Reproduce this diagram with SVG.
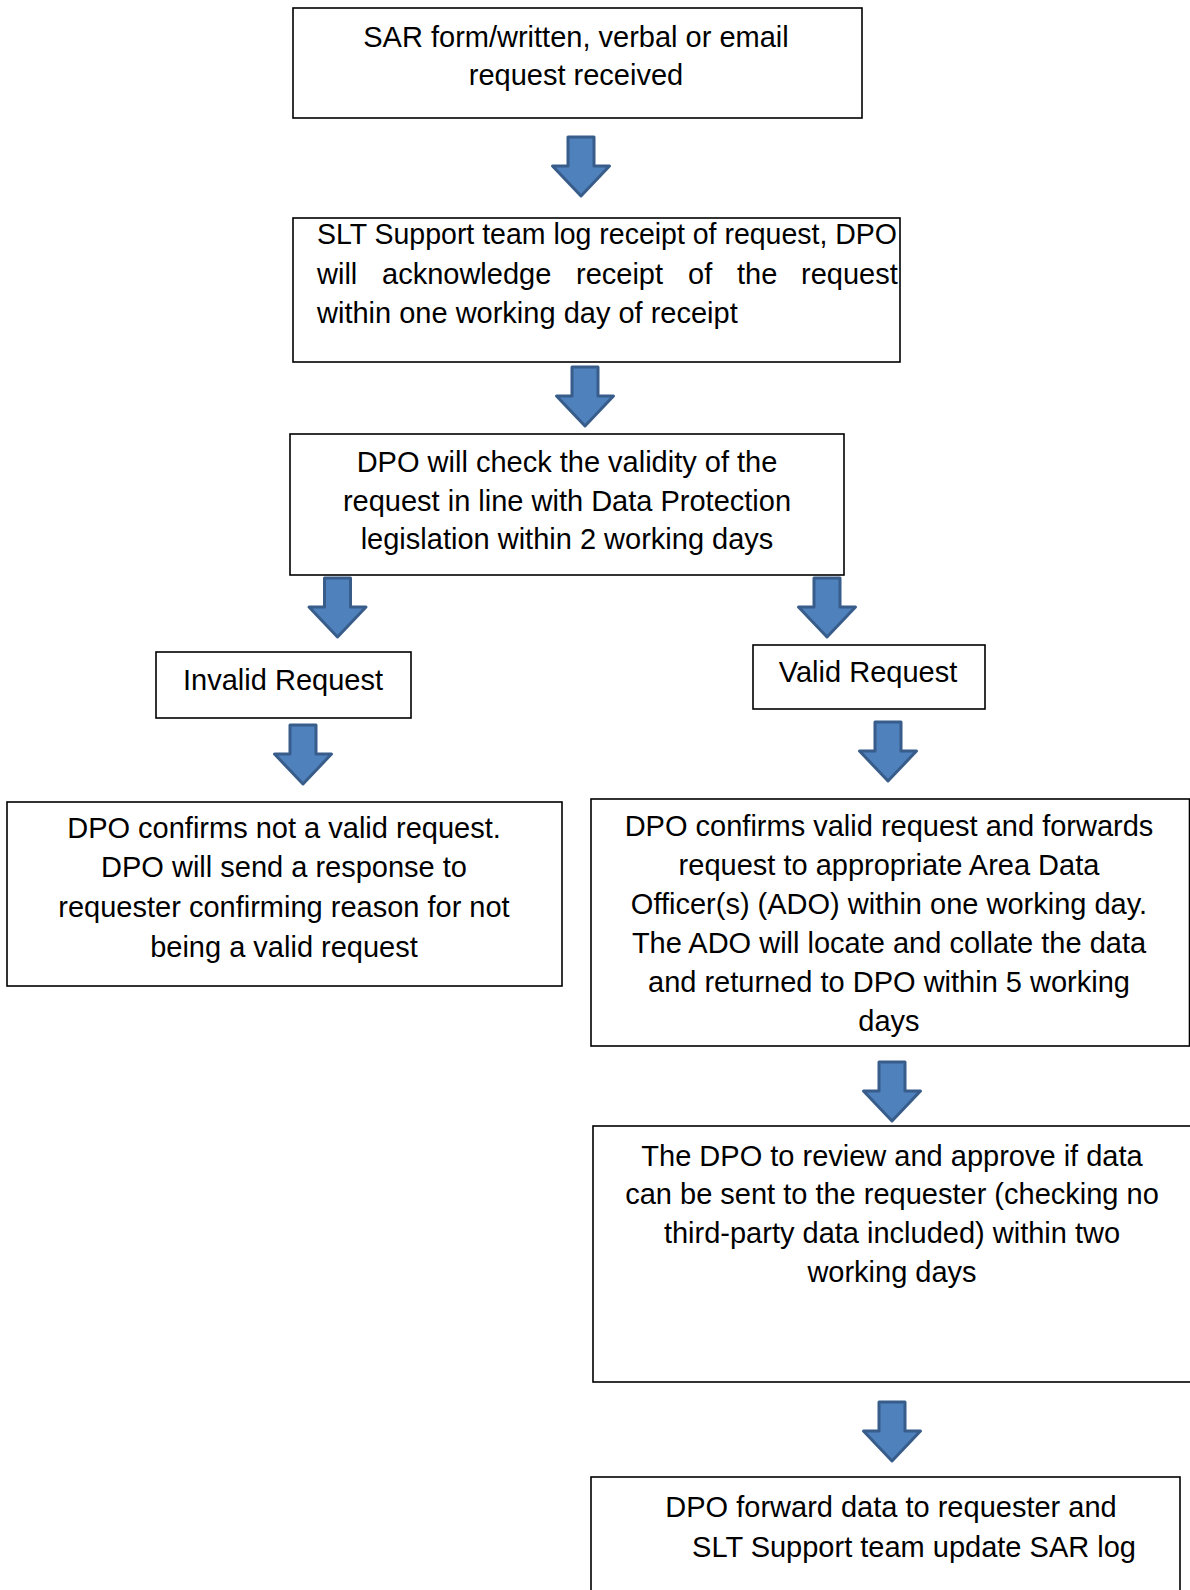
<svg xmlns="http://www.w3.org/2000/svg" width="1190" height="1590" viewBox="0 0 1190 1590">
<defs>
<style>
.box{fill:#fff;stroke:#000;stroke-width:1.6}
.t{font-family:"Liberation Sans",Arial,sans-serif;font-size:29px;fill:#000}
.c{text-anchor:middle}
.arr{fill:#4F81BD;stroke:#385D8A;stroke-width:3;stroke-linejoin:round}
</style>
<path id="ar" d="M-13,0 H13 V29 H28.5 L0,59 L-28.5,29 H-13 Z"/>
</defs>
<rect width="1190" height="1590" fill="#fff"/>
<g id="connectors">
<use href="#ar" class="arr" transform="translate(581,137)"/>
<use href="#ar" class="arr" transform="translate(585,367)"/>
<use href="#ar" class="arr" transform="translate(337.5,578)"/>
<use href="#ar" class="arr" transform="translate(827,578)"/>
<use href="#ar" class="arr" transform="translate(303,725)"/>
<use href="#ar" class="arr" transform="translate(888,722)"/>
<use href="#ar" class="arr" transform="translate(892,1062)"/>
<use href="#ar" class="arr" transform="translate(892,1402)"/>
</g>
<g id="n1">
<rect class="box" x="293" y="8" width="569" height="110"/>
<text class="t c" x="576" y="47">SAR form/written, verbal or email</text>
<text class="t c" x="576" y="85">request received</text>
</g>
<g id="n2">
<rect class="box" x="293" y="218" width="607" height="144"/>
<text class="t" x="317" y="244" textLength="580" lengthAdjust="spacingAndGlyphs">SLT Support team log receipt of request, DPO</text>
<text class="t" y="284"><tspan x="317">will</tspan><tspan x="382">acknowledge</tspan><tspan x="576">receipt</tspan><tspan x="688">of</tspan><tspan x="737">the</tspan><tspan x="801">request</tspan></text>
<text class="t" x="317" y="323">within one working day of receipt</text>
</g>
<g id="n3">
<rect class="box" x="290" y="434" width="554" height="141"/>
<text class="t c" x="567" y="472">DPO will check the validity of the</text>
<text class="t c" x="567" y="511">request in line with Data Protection</text>
<text class="t c" x="567" y="549">legislation within 2 working days</text>
</g>
<g id="n4">
<rect class="box" x="156" y="652" width="255" height="66"/>
<text class="t c" x="283" y="690">Invalid Request</text>
</g>
<g id="n5">
<rect class="box" x="753" y="645" width="232" height="64"/>
<text class="t c" x="868" y="682">Valid Request</text>
</g>
<g id="n6">
<rect class="box" x="7" y="802" width="555" height="184"/>
<text class="t c" x="284" y="838">DPO confirms not a valid request.</text>
<text class="t c" x="284" y="877">DPO will send a response to</text>
<text class="t c" x="284" y="917">requester confirming reason for not</text>
<text class="t c" x="284" y="957">being a valid request</text>
</g>
<g id="n7">
<rect class="box" x="591" y="799" width="598.5" height="247"/>
<text class="t c" x="889" y="836">DPO confirms valid request and forwards</text>
<text class="t c" x="889" y="875">request to appropriate Area Data</text>
<text class="t c" x="889" y="914">Officer(s) (ADO) within one working day.</text>
<text class="t c" x="889" y="953">The ADO will locate and collate the data</text>
<text class="t c" x="889" y="992">and returned to DPO within 5 working</text>
<text class="t c" x="889" y="1031">days</text>
</g>
<g id="n8">
<rect class="box" x="593" y="1126" width="600" height="256"/>
<text class="t c" x="892" y="1166">The DPO to review and approve if data</text>
<text class="t c" x="892" y="1204">can be sent to the requester (checking no</text>
<text class="t c" x="892" y="1243">third-party data included) within two</text>
<text class="t c" x="892" y="1282">working days</text>
</g>
<g id="n9">
<rect class="box" x="591" y="1477" width="589" height="130"/>
<text class="t c" x="891" y="1517">DPO forward data to requester and</text>
<text class="t c" x="914" y="1557">SLT Support team update SAR log</text>
</g>
</svg>
